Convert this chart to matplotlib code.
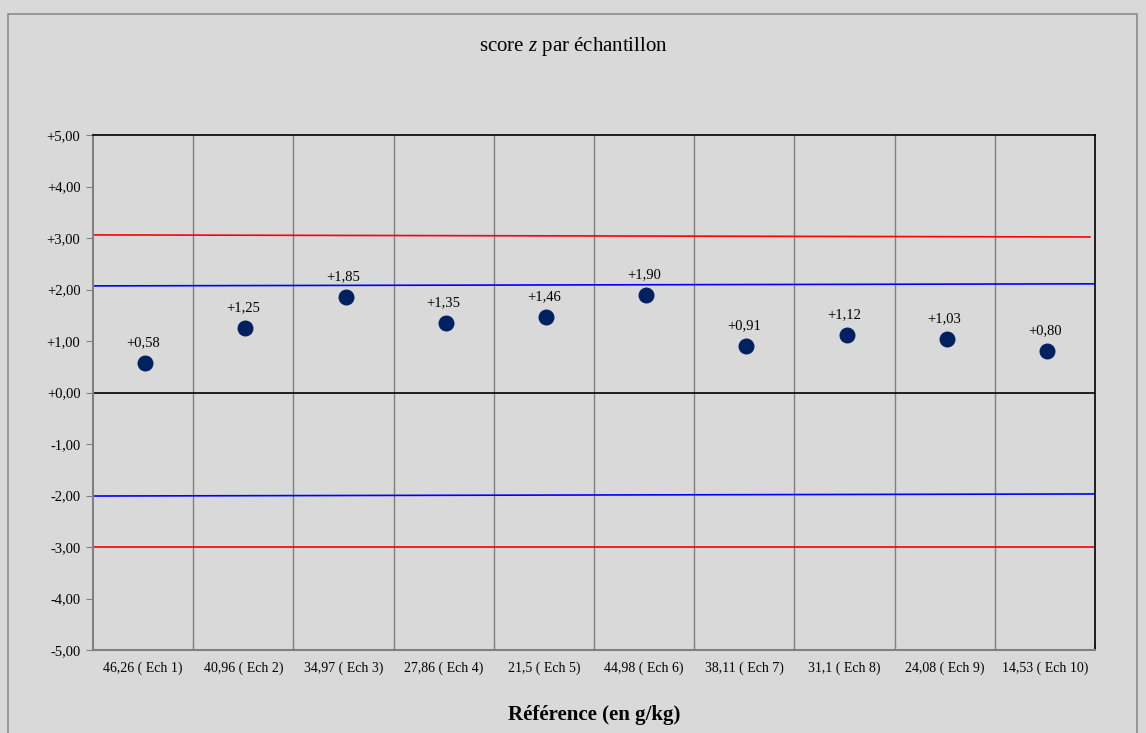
import matplotlib.pyplot as plt
from matplotlib.patches import Rectangle

plt.rcParams['font.family'] = ['Liberation Serif', 'DejaVu Serif']
plt.rcParams['mathtext.fontset'] = 'custom'
plt.rcParams['mathtext.rm'] = 'Liberation Serif'
plt.rcParams['mathtext.it'] = 'Liberation Serif:italic'

categories = ['46,26 ( Ech 1)', '40,96 ( Ech 2)', '34,97 ( Ech 3)', '27,86 ( Ech 4)',
              '21,5 ( Ech 5)', '44,98 ( Ech 6)', '38,11 ( Ech 7)', '31,1 ( Ech 8)',
              '24,08 ( Ech 9)', '14,53 ( Ech 10)']
zscores = [0.58, 1.25, 1.85, 1.35, 1.46, 1.90, 0.91, 1.12, 1.03, 0.80]

# limit lines (start value, end value) - slightly tilted as in the original
red_up = [3.06, 3.02]
blue_up = [2.07, 2.11]
blue_low = [-2.01, -1.97]
red_low = [-3.00, -3.00]


def fmt(v):
    s = '+%.2f' % v if v >= 0 else '%.2f' % v
    return s.replace('.', ',')


bg = '#d9d9d9'
fig = plt.figure(figsize=(11.46, 7.33), dpi=100, facecolor=bg)
ax = fig.add_axes([93/1146, 83/733, 1002/1146, 515/733])
ax.set_facecolor(bg)

fig.patches.append(Rectangle((8/1146, -0.01), 1129/1146, (733-14)/733 + 0.01,
                             transform=fig.transFigure, fill=False,
                             edgecolor='#8c8c8c', linewidth=1.2))

n = len(categories)
x = list(range(n))

ax.set_xlim(-0.5, n - 0.5)
ax.set_ylim(-5, 5)

# vertical grid at category boundaries
for b in range(1, n):
    ax.axvline(b - 0.5, color='#808080', linewidth=1.0, zorder=1)

ax.axhline(0, color='black', linewidth=1.2, zorder=2)
ax.plot([-0.5, n - 0.55], red_up, color='red', linewidth=1.2, zorder=2)
ax.plot([-0.5, n - 0.5], blue_up, color='blue', linewidth=1.2, zorder=2)
ax.plot([-0.5, n - 0.5], blue_low, color='blue', linewidth=1.2, zorder=2)
ax.plot([-0.5, n - 0.5], red_low, color='red', linewidth=1.2, zorder=2)

ax.scatter([xi + 0.02 for xi in x], zscores, s=110, color='#002060', zorder=3)
for xi, v in zip(x, zscores):
    ax.annotate(fmt(v), (xi, v), xytext=(0, 10), textcoords='offset points',
                ha='center', va='bottom', fontsize=10.5)

yt = list(range(-5, 6))
ax.set_yticks(yt)
ax.set_yticklabels([fmt(t) for t in yt], fontsize=10.5)
ax.set_xticks([b - 0.5 for b in range(n + 1)], minor=False)
ax.set_xticklabels([])
ax.set_xticks(x, minor=True)
ax.set_xticklabels(categories, minor=True, fontsize=10)
ax.tick_params(axis='x', which='minor', length=0, pad=8)
ax.tick_params(axis='x', which='major', length=5, direction='in', color='#808080')
ax.tick_params(axis='y', length=5, direction='out', color='#808080', pad=4)

for s in ['left', 'bottom']:
    ax.spines[s].set_color('#808080')
    ax.spines[s].set_linewidth(1.5)
for s in ['top', 'right']:
    ax.spines[s].set_color('black')
    ax.spines[s].set_linewidth(1.2)

fig.text(0.5, 1 - 47/733, 'score $z$ par échantillon', ha='center', va='center', fontsize=15)
ax.set_xlabel('Référence (en g/kg)', fontsize=15, fontweight='bold', labelpad=22)

fig.savefig('out.png', dpi=100, facecolor=bg)
